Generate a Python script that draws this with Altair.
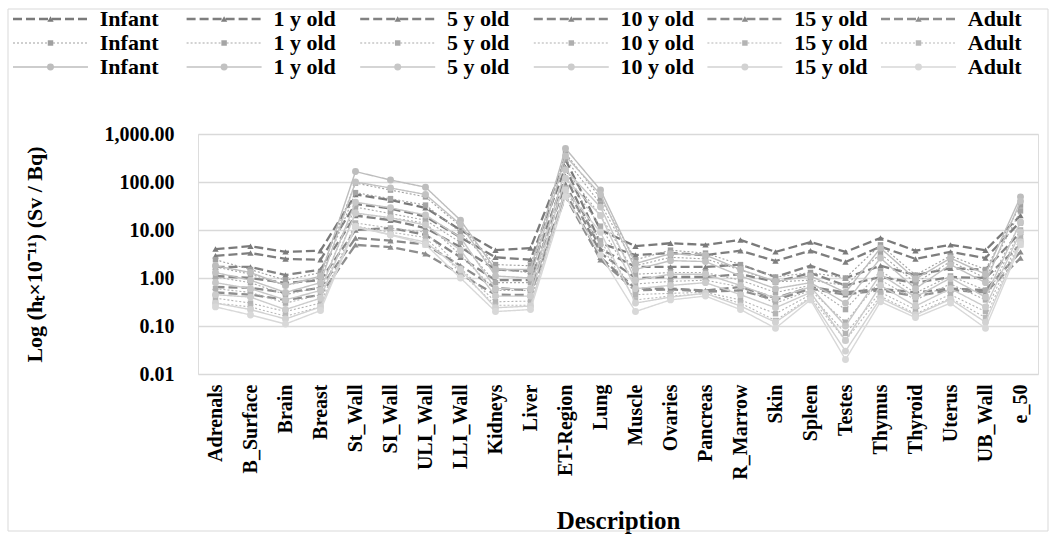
import altair as alt
import pandas as pd

categories = ["Adrenals", "B_Surface", "Brain", "Breast", "St_Wall", "SI_Wall", "ULI_Wall",
              "LLI_Wall", "Kidneys", "Liver", "ET-Region", "Lung", "Muscle", "Ovaries",
              "Pancreas", "R_Marrow", "Skin", "Spleen", "Testes", "Thymus", "Thyroid",
              "Uterus", "UB_Wall", "e_50"]
ages = ["Infant", "1 y old", "5 y old", "10 y old", "15 y old", "Adult"]
groups = ["A", "B", "C"]

# group A (dashed, triangles)
A_infant = [4.0, 4.6, 3.5, 3.7, 55, 42, 29, 10, 3.8, 4.2, 290, 10, 4.6, 5.3, 4.9, 6.2, 3.5, 5.6, 3.5, 6.8, 3.7, 4.9, 3.8, 20]
A_1y = [2.9, 3.3, 2.5, 2.4, 35, 28, 19, 7, 2.7, 2.4, 200, 5.3, 3.0, 3.3, 3.0, 3.7, 2.26, 3.7, 2.15, 4.5, 2.5, 3.5, 2.6, 15]
A_5y = [1.7, 1.7, 1.15, 1.5, 20, 16, 11, 4.4, 1.5, 1.4, 130, 4.0, 1.7, 1.7, 1.7, 1.9, 1.05, 1.8, 1.0, 1.8, 1.15, 1.6, 1.5, 9]
A_10y = [1.1, 1.0, 0.79, 0.9, 10, 11, 7.9, 2.7, 0.9, 0.9, 90, 3.3, 1.0, 1.05, 1.05, 1.2, 0.83, 1.27, 0.7, 1.05, 0.79, 1.05, 1.0, 5]
A_15y = [0.65, 0.62, 0.5, 0.62, 6.8, 6.0, 5.0, 1.8, 0.62, 0.55, 60, 2.7, 0.6, 0.6, 0.55, 0.65, 0.38, 0.65, 0.5, 0.6, 0.5, 0.6, 0.56, 3.5]
A_adult = [0.5, 0.45, 0.35, 0.44, 4.9, 4.4, 3.2, 1.2, 0.45, 0.44, 50, 2.4, 0.55, 0.58, 0.52, 0.55, 0.35, 0.6, 0.45, 0.56, 0.42, 0.56, 0.5, 2.6]

# group B (dotted, squares)
B_infant = [2.4, 1.5, 0.9, 1.3, 95, 68, 49, 12, 1.9, 1.8, 400, 46, 2.4, 3.8, 3.3, 1.9, 1.05, 1.3, 1.0, 4.9, 1.15, 2.9, 1.5, 33]
B_1y = [1.7, 1.2, 0.7, 1.0, 60, 45, 33, 9, 1.5, 1.3, 300, 35, 1.8, 2.7, 2.5, 1.47, 0.83, 0.9, 0.7, 3.2, 0.79, 2.2, 1.0, 25]
B_5y = [1.05, 0.8, 0.45, 0.65, 30, 22, 16, 5.5, 0.8, 0.8, 180, 20, 1.2, 1.3, 1.3, 0.9, 0.5, 0.7, 0.22, 1.4, 0.49, 1.1, 0.56, 14]
B_10y = [0.6, 0.5, 0.3, 0.45, 22, 18, 14, 3.0, 0.55, 0.55, 120, 12, 0.75, 0.85, 0.9, 0.65, 0.3, 0.55, 0.12, 0.9, 0.35, 0.75, 0.35, 10]
B_15y = [0.38, 0.3, 0.2, 0.3, 14, 11, 9, 1.6, 0.32, 0.33, 75, 6, 0.45, 0.48, 0.5, 0.35, 0.18, 0.45, 0.07, 0.5, 0.22, 0.45, 0.2, 7]
B_adult = [0.3, 0.25, 0.16, 0.25, 12, 9, 7, 1.3, 0.27, 0.27, 65, 5, 0.35, 0.42, 0.47, 0.3, 0.13, 0.4, 0.05, 0.42, 0.18, 0.38, 0.15, 6]

# group C (solid, circles)
C_infant = [1.8, 1.3, 0.7, 1.1, 165, 110, 78, 16, 1.5, 1.5, 500, 68, 2.0, 3.2, 3.0, 1.5, 0.85, 1.1, 0.5, 4.2, 0.95, 2.6, 1.2, 49]
C_1y = [1.3, 0.9, 0.5, 0.8, 100, 75, 55, 13, 1.1, 1.0, 350, 55, 1.5, 2.3, 2.2, 1.1, 0.6, 0.8, 0.3, 2.6, 0.6, 1.9, 0.8, 40]
C_5y = [0.8, 0.6, 0.35, 0.55, 38, 29, 20.5, 7, 0.6, 0.6, 180, 30, 0.9, 1.2, 1.2, 0.7, 0.38, 0.65, 0.1, 1.2, 0.4, 1.0, 0.4, 14.7]
C_10y = [0.45, 0.4, 0.22, 0.38, 22.6, 18, 12.7, 3.8, 0.42, 0.42, 120, 20, 0.6, 0.7, 0.8, 0.45, 0.24, 0.5, 0.05, 0.7, 0.26, 0.6, 0.25, 9.1]
C_15y = [0.3, 0.22, 0.14, 0.25, 12, 8, 5.6, 1.5, 0.24, 0.26, 68, 9, 0.3, 0.4, 0.48, 0.26, 0.12, 0.38, 0.03, 0.38, 0.17, 0.36, 0.12, 5.6]
C_adult = [0.25, 0.17, 0.11, 0.21, 11.5, 7.9, 5.0, 1.0, 0.2, 0.22, 50, 3.0, 0.2, 0.35, 0.42, 0.22, 0.09, 0.35, 0.02, 0.32, 0.15, 0.3, 0.09, 5.0]

series_values = {
    "A": [A_infant, A_1y, A_5y, A_10y, A_15y, A_adult],
    "B": [B_infant, B_1y, B_5y, B_10y, B_15y, B_adult],
    "C": [C_infant, C_1y, C_5y, C_10y, C_15y, C_adult],
}
group_colors = {
    "A": ["#7a7a7a", "#7e7e7e", "#828282", "#868686", "#8a8a8a", "#8e8e8e"],
    "B": ["#a0a0a0", "#a5a5a5", "#aaaaaa", "#afafaf", "#b4b4b4", "#b9b9b9"],
    "C": ["#bdbdbd", "#c2c2c2", "#c7c7c7", "#cccccc", "#d2d2d2", "#d8d8d8"],
}
group_style = {
    "A": dict(dash=[9, 4], width=2.3, shape="triangle-up", size=40),
    "B": dict(dash=[2, 2], width=1.1, shape="square", size=30),
    "C": dict(dash=[1, 0], width=1.4, shape="circle", size=48),
}

FONT = "Liberation Serif"

keys, key_colors, rows, leg_rows = [], [], [], []
for gi, g in enumerate(groups):
    for ai, a in enumerate(ages):
        k = f"{g}|{a}"
        keys.append(k)
        key_colors.append(group_colors[g][ai])
        leg_rows.append(dict(group=g, key=k, label=a, row=gi, col=ai))
        for c, v in zip(categories, series_values[g][ai]):
            rows.append(dict(group=g, key=k, cat=c, val=v))
df = pd.DataFrame(rows)
leg_df = pd.DataFrame(leg_rows)

color_scale = alt.Scale(domain=keys, range=key_colors)

x_enc = alt.X("cat:N", sort=categories,
              scale=alt.Scale(type="point", padding=0.5),
              axis=alt.Axis(title="Description", labelAngle=270, labelAlign="right",
                            labelBaseline="middle", labelPadding=10, labelFontSize=20,
                            labelFont=FONT, labelFontWeight="bold", labelColor="#000000",
                            ticks=False, domain=False, grid=False,
                            titleFont=FONT, titleFontSize=25, titleFontWeight="bold",
                            titleColor="#000000", titleY=146, titleBaseline="middle"))
y_enc = alt.Y("val:Q",
              scale=alt.Scale(type="log", domain=[0.01, 1000]),
              axis=alt.Axis(title="Log (hₜ×10⁻¹¹) (Sv / Bq)", values=[0.01, 0.1, 1, 10, 100, 1000],
                            format=",.2f", labelFont=FONT, labelFontSize=20,
                            labelFontWeight="bold", labelColor="#000000", labelPadding=24,
                            ticks=False, domain=False, grid=True, gridColor="#d9d9d9",
                            gridWidth=1.5, titleFont=FONT, titleFontSize=22,
                            titleFontWeight="bold", titleColor="#000000",
                            titleX=-164, titleBaseline="middle"))

main_layers = []
for g in groups:
    st = group_style[g]
    sub = df[df.group == g]
    base = alt.Chart(sub)
    lines = base.mark_line(strokeDash=st["dash"], strokeWidth=st["width"]).encode(
        x=x_enc, y=y_enc, detail="key:N",
        color=alt.Color("key:N", scale=color_scale, legend=None))
    pts = base.mark_point(filled=True, opacity=1, shape=st["shape"], size=st["size"]).encode(
        x=x_enc, y=y_enc,
        color=alt.Color("key:N", scale=color_scale, legend=None))
    main_layers += [lines, pts]
main = alt.layer(*main_layers)

# legend drawn from the series list
lx = alt.Scale(domain=[0, 5], range=[-185, 683])
ly = alt.Scale(domain=[0, 2], range=[-115, -67])
leg_layers = []
for g in groups:
    st = group_style[g]
    lb = alt.Chart(leg_df[leg_df.group == g]).transform_calculate(
        x_end="datum.col + 0.432", x_mid="datum.col + 0.216", x_txt="datum.col + 0.5")
    rule = lb.mark_rule(strokeDash=st["dash"], strokeWidth=st["width"]).encode(
        x=alt.X("col:Q", scale=lx, axis=None), x2="x_end:Q",
        y=alt.Y("row:Q", scale=ly, axis=None),
        color=alt.Color("key:N", scale=color_scale, legend=None))
    mk = lb.mark_point(filled=True, opacity=1, shape=st["shape"], size=st["size"]).encode(
        x=alt.X("x_mid:Q", scale=lx, axis=None),
        y=alt.Y("row:Q", scale=ly, axis=None),
        color=alt.Color("key:N", scale=color_scale, legend=None))
    tx = lb.mark_text(align="left", baseline="middle", font=FONT, fontSize=22,
                      fontWeight="bold", color="#000000").encode(
        x=alt.X("x_txt:Q", scale=lx, axis=None),
        y=alt.Y("row:Q", scale=ly, axis=None),
        text="label:N")
    leg_layers += [rule, mk, tx]
legend = alt.layer(*leg_layers)

border = alt.Chart(pd.DataFrame({"a": [0]})).mark_rect(
    fill=None, stroke="#d9d9d9", strokeWidth=1).encode(
    x=alt.value(-190), x2=alt.value(850), y=alt.value(-125), y2=alt.value(397))

chart = alt.layer(main, legend, border).resolve_scale(
    x="independent", y="independent").properties(
    width=840, height=240,
    autosize=alt.AutoSizeParams(type="none"),
    padding={"left": 198, "top": 134, "right": 16, "bottom": 162},
).configure_view(stroke=None).configure(background="#ffffff")

chart.save("out.html", embed_options={"renderer": "svg", "actions": False})
